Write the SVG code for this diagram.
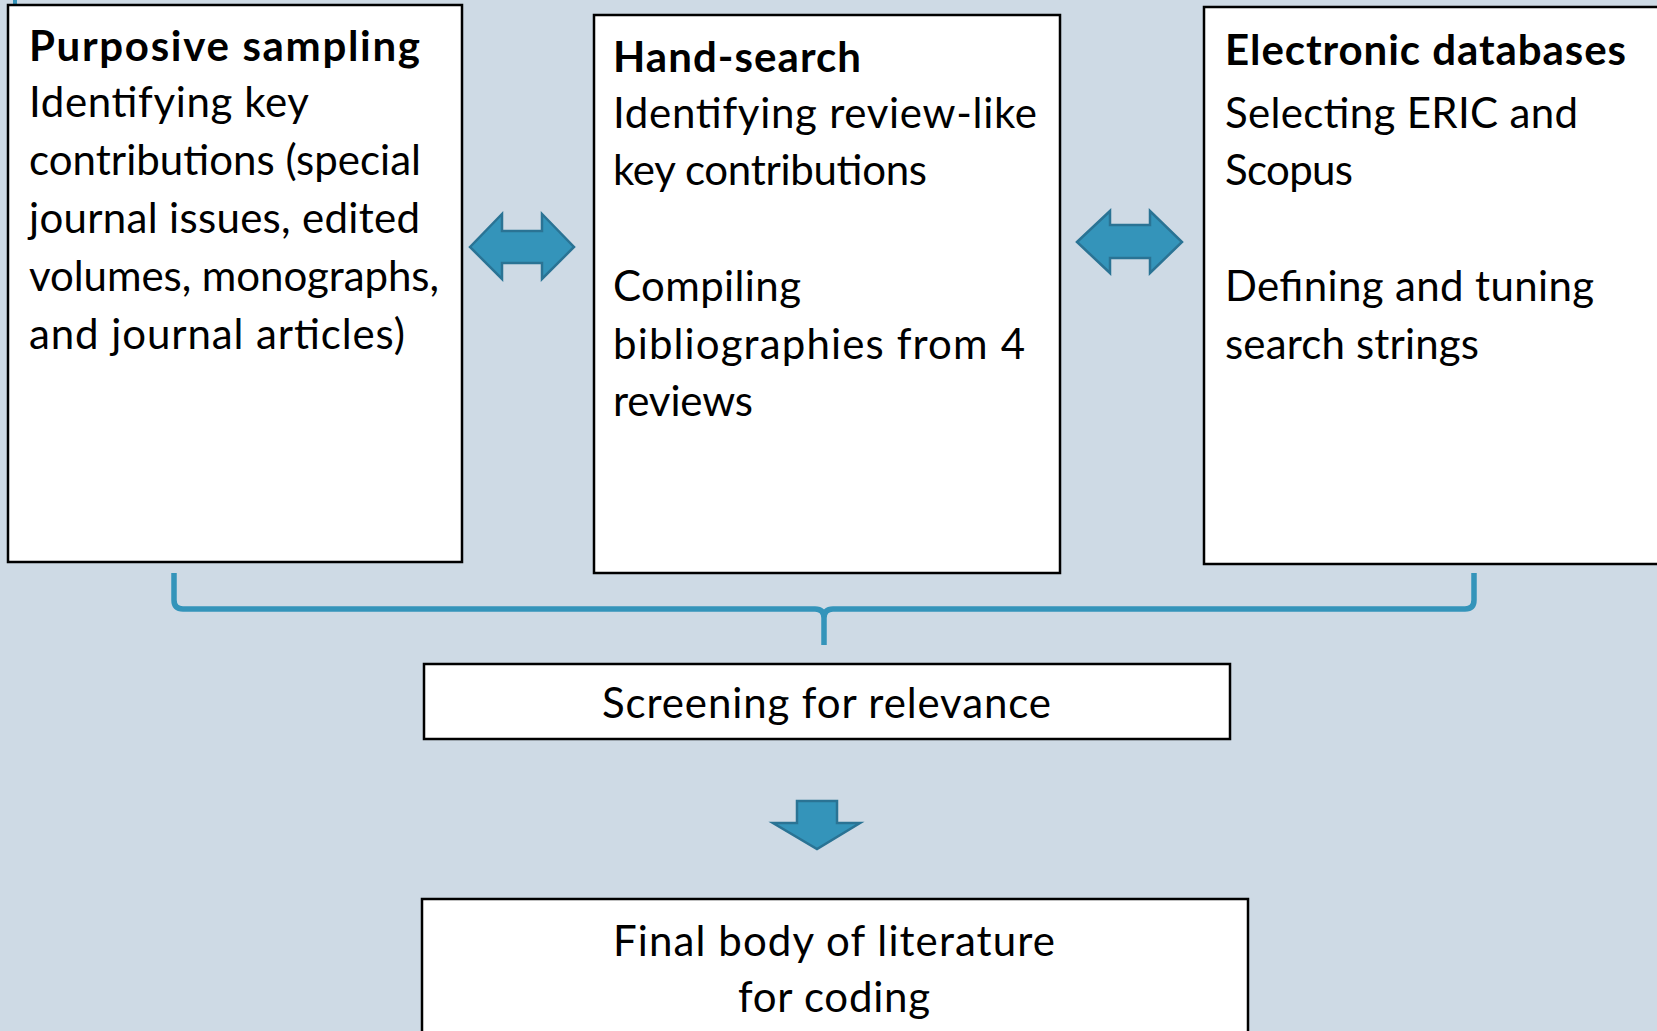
<svg xmlns="http://www.w3.org/2000/svg" width="1657" height="1031" viewBox="0 0 1657 1031">
<style>
.bg{fill:#CEDAE5}
.box{fill:#FFFFFF;stroke:#000000;stroke-width:2.5}
.t{font-family:Lato,"Liberation Sans",sans-serif;font-size:42px;fill:#000000}
.b{font-weight:bold}
.c{text-anchor:middle}
.arr{fill:#3494BA;stroke:#2A7394;stroke-width:2.5;stroke-linejoin:miter}
.brace{fill:none;stroke:#3494BA;stroke-width:5.5}
</style>
<rect class="bg" x="0" y="0" width="1657" height="1031"/>
<rect x="13" y="0" width="4" height="4" fill="#3494BA"/>
<g id="node-purposive">
<rect class="box" x="8" y="5" width="454" height="557"/>
<text class="t b" x="29" y="61" textLength="391">Purposive sampling</text>
<text class="t" x="29" y="117" textLength="280">Identifying key</text>
<text class="t" x="29" y="175" textLength="392">contributions (special</text>
<text class="t" x="29" y="233" textLength="391">journal issues, edited</text>
<text class="t" x="29" y="291" textLength="410">volumes, monographs,</text>
<text class="t" x="29" y="349" textLength="376">and journal articles)</text>
</g>
<g id="node-handsearch">
<rect class="box" x="594" y="15" width="466" height="558"/>
<text class="t b" x="613" y="72" textLength="248">Hand-search</text>
<text class="t" x="613" y="128" textLength="424">Identifying review-like</text>
<text class="t" x="613" y="185" textLength="314">key contributions</text>
<text class="t" x="613" y="301" textLength="188">Compiling</text>
<text class="t" x="613" y="359" textLength="412">bibliographies from 4</text>
<text class="t" x="613" y="416" textLength="140">reviews</text>
</g>
<g id="node-electronic">
<rect class="box" x="1204" y="7" width="470" height="557"/>
<text class="t b" x="1225" y="65" textLength="401">Electronic databases</text>
<text class="t" x="1225" y="128" textLength="353">Selecting ERIC and</text>
<text class="t" x="1225" y="185" textLength="128">Scopus</text>
<text class="t" x="1225" y="301" textLength="369">Defining and tuning</text>
<text class="t" x="1225" y="359" textLength="254">search strings</text>
</g>
<g id="node-screening">
<rect class="box" x="424" y="664" width="806" height="75"/>
<text class="t" x="602" y="718" textLength="449">Screening for relevance</text>
</g>
<g id="node-final">
<rect class="box" x="422" y="899" width="826" height="140"/>
<text class="t" x="613" y="956" textLength="442">Final body of literature</text>
<text class="t" x="738" y="1012" textLength="192">for coding</text>
</g>
<g id="connectors">
<polygon class="arr" points="470,247 502,214 502,231 542,231 542,214 574,247 542,279 542,263 502,263 502,279"/>
<polygon class="arr" points="1077,242 1110,211 1110,225 1150,225 1150,211 1182,242 1150,273 1150,258 1110,258 1110,273"/>
<path class="brace" d="M174,573 V600 Q174,609 183,609 H815 Q824,609 824,618 V645 M824,618 Q824,609 833,609 H1465 Q1474,609 1474,600 V573"/>
<polygon class="arr" points="797,801 837,801 837,823 860,823 817,849 773,823 797,823"/>
</g>
</svg>
